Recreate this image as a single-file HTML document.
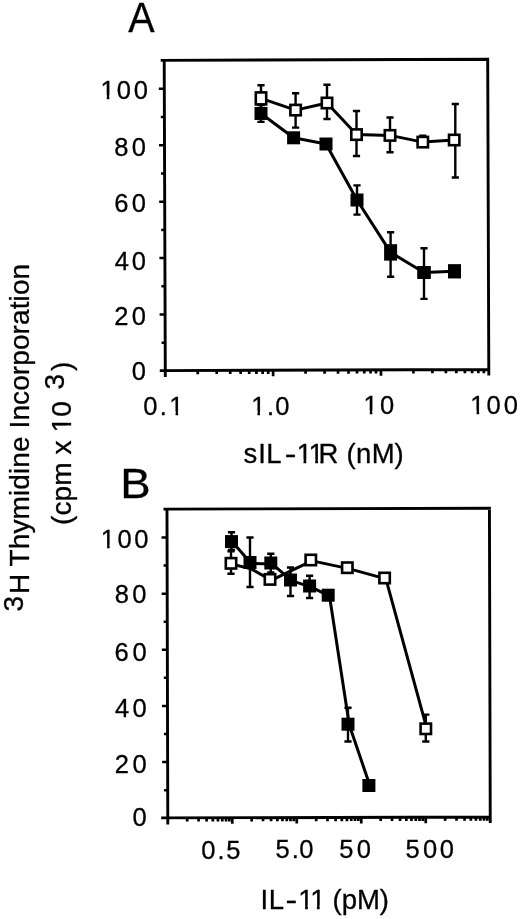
<!DOCTYPE html>
<html><head><meta charset="utf-8"><title>Figure</title>
<style>html,body{margin:0;padding:0;background:#fff}svg{display:block;will-change:transform}</style>
</head><body>
<svg width="520" height="919" viewBox="0 0 520 919">
<rect width="520" height="919" fill="#fff"/>
<g transform="rotate(-0.2 326.5 214.9)" stroke="#000" fill="none" stroke-linecap="butt">
<path d="M161.25 59.78 H489.70 M488.25 59.78 V376.02 M488.25 370.02 H159.25 M164.75 376.52 V59.78" stroke-width="2.9"/>
<path d="M164.75 342.12 h-3.6 M164.75 313.92 h-5.5 M164.75 285.71 h-3.6 M164.75 257.51 h-5.5 M164.75 229.30 h-3.6 M164.75 201.10 h-5.5 M164.75 172.89 h-3.6 M164.75 144.69 h-5.5 M164.75 116.48 h-3.6 M164.75 88.28 h-5.5" stroke-width="2.5"/>
<path d="M197.21 370.02 v3.7 M216.20 370.02 v3.7 M229.67 370.02 v3.7 M240.12 370.02 v3.7 M248.66 370.02 v3.7 M255.88 370.02 v3.7 M262.13 370.02 v3.7 M267.65 370.02 v3.7 M272.58 370.02 v6 M305.04 370.02 v3.7 M324.03 370.02 v3.7 M337.51 370.02 v3.7 M347.96 370.02 v3.7 M356.49 370.02 v3.7 M363.71 370.02 v3.7 M369.97 370.02 v3.7 M375.48 370.02 v3.7 M380.42 370.02 v6 M412.88 370.02 v3.7 M431.87 370.02 v3.7 M445.34 370.02 v3.7 M455.79 370.02 v3.7 M464.33 370.02 v3.7 M471.55 370.02 v3.7 M477.80 370.02 v3.7 M483.32 370.02 v3.7" stroke-width="2.7"/>
</g>
<path d="M261.00 98.40 L295.60 110.10 L327.00 103.00 L356.50 134.60 L390.00 135.40 L422.80 142.10 L454.20 140.00" stroke="#000" stroke-width="3.0" fill="none" stroke-linejoin="round"/>
<path d="M261.00 98.40 V85.30 M257.40 85.30 h7.2 M295.60 110.10 V93.20 M292.00 93.20 h7.2 M295.60 110.10 V127.60 M292.00 127.60 h7.2 M327.00 103.00 V84.80 M323.40 84.80 h7.2 M327.00 103.00 V119.00 M323.40 119.00 h7.2 M356.50 134.60 V111.00 M352.90 111.00 h7.2 M356.50 134.60 V156.00 M352.90 156.00 h7.2 M390.00 135.40 V117.50 M386.40 117.50 h7.2 M390.00 135.40 V152.30 M386.40 152.30 h7.2 M422.80 142.10 V135.70 M419.20 135.70 h7.2 M455.30 140.00 V104.00 M451.70 104.00 h7.2 M455.30 140.00 V177.50 M451.70 177.50 h7.2" stroke="#000" stroke-width="2.4" fill="none"/>
<rect x="255.80" y="92.40" width="10.40" height="12.00" fill="#fff" stroke="#000" stroke-width="2.6"/>
<rect x="290.40" y="104.90" width="10.40" height="10.40" fill="#fff" stroke="#000" stroke-width="2.6"/>
<rect x="321.80" y="97.80" width="10.40" height="10.40" fill="#fff" stroke="#000" stroke-width="2.6"/>
<rect x="351.30" y="129.40" width="10.40" height="10.40" fill="#fff" stroke="#000" stroke-width="2.6"/>
<rect x="384.80" y="130.20" width="10.40" height="10.40" fill="#fff" stroke="#000" stroke-width="2.6"/>
<rect x="417.60" y="136.90" width="10.40" height="10.40" fill="#fff" stroke="#000" stroke-width="2.6"/>
<rect x="449.00" y="134.80" width="10.40" height="10.40" fill="#fff" stroke="#000" stroke-width="2.6"/>
<path d="M261.00 113.45 L293.60 137.80 L326.00 144.00 L357.00 200.00 L390.60 252.40 L424.00 272.50 L454.50 271.30" stroke="#000" stroke-width="3.0" fill="none" stroke-linejoin="round"/>
<path d="M261.00 113.45 V105.00 M257.40 105.00 h7.2 M261.00 113.45 V121.90 M257.40 121.90 h7.2 M357.00 200.00 V185.40 M353.40 185.40 h7.2 M357.00 200.00 V214.60 M353.40 214.60 h7.2 M390.60 252.40 V232.30 M387.00 232.30 h7.2 M390.60 252.40 V276.80 M387.00 276.80 h7.2 M424.00 272.50 V248.30 M420.40 248.30 h7.2 M424.00 272.50 V298.90 M420.40 298.90 h7.2" stroke="#000" stroke-width="2.4" fill="none"/>
<rect x="254.50" y="106.95" width="13.00" height="13.00" fill="#000"/>
<rect x="287.10" y="131.30" width="13.00" height="13.00" fill="#000"/>
<rect x="319.50" y="137.50" width="13.00" height="13.00" fill="#000"/>
<rect x="350.50" y="193.50" width="13.00" height="13.00" fill="#000"/>
<rect x="384.10" y="244.20" width="13.00" height="16.40" fill="#000"/>
<rect x="417.20" y="266.00" width="13.60" height="13.00" fill="#000"/>
<rect x="448.00" y="264.15" width="13.00" height="14.30" fill="#000"/>
<g transform="rotate(-0.15 328.6 663.1)" stroke="#000" fill="none" stroke-linecap="butt">
<path d="M163.88 508.73 H491.28 M489.83 508.73 V823.48 M489.83 817.48 H160.78 M167.38 823.98 V508.73" stroke-width="2.9"/>
<path d="M167.38 789.71 h-3.6 M167.38 761.64 h-5.5 M167.38 733.57 h-3.6 M167.38 705.50 h-5.5 M167.38 677.43 h-3.6 M167.38 649.37 h-5.5 M167.38 621.30 h-3.6 M167.38 593.23 h-5.5 M167.38 565.16 h-3.6 M167.38 537.09 h-5.5" stroke-width="2.5"/>
<path d="M186.79 817.48 v3.7 M198.14 817.48 v3.7 M206.20 817.48 v3.7 M212.45 817.48 v3.7 M217.56 817.48 v3.7 M221.88 817.48 v3.7 M225.62 817.48 v3.7 M228.91 817.48 v3.7 M231.87 817.48 v6 M251.28 817.48 v3.7 M262.63 817.48 v3.7 M270.69 817.48 v3.7 M276.94 817.48 v3.7 M282.05 817.48 v3.7 M286.37 817.48 v3.7 M290.11 817.48 v3.7 M293.40 817.48 v3.7 M296.36 817.48 v6 M315.77 817.48 v3.7 M327.12 817.48 v3.7 M335.18 817.48 v3.7 M341.43 817.48 v3.7 M346.54 817.48 v3.7 M350.86 817.48 v3.7 M354.60 817.48 v3.7 M357.89 817.48 v3.7 M360.85 817.48 v6 M380.26 817.48 v3.7 M391.61 817.48 v3.7 M399.67 817.48 v3.7 M405.92 817.48 v3.7 M411.03 817.48 v3.7 M415.35 817.48 v3.7 M419.09 817.48 v3.7 M422.38 817.48 v3.7 M425.34 817.48 v6 M444.75 817.48 v3.7 M456.10 817.48 v3.7 M464.16 817.48 v3.7 M470.41 817.48 v3.7 M475.52 817.48 v3.7 M479.84 817.48 v3.7 M483.58 817.48 v3.7 M486.87 817.48 v3.7" stroke-width="2.7"/>
</g>
<path d="M232.30 564.20 L251.30 568.90 L271.30 580.30 L291.80 570.40 L312.10 560.90 L348.60 568.60 L385.90 578.90 L427.10 729.70" stroke="#000" stroke-width="3.0" fill="none" stroke-linejoin="round"/>
<path d="M231.00 563.30 V551.20 M227.40 551.20 h7.2 M231.00 563.30 V573.80 M227.40 573.80 h7.2 M425.80 728.80 V714.60 M422.20 714.60 h7.2 M425.80 728.80 V741.50 M422.20 741.50 h7.2" stroke="#000" stroke-width="2.4" fill="none"/>
<rect x="225.80" y="558.10" width="10.40" height="10.40" fill="#fff" stroke="#000" stroke-width="2.6"/>
<rect x="264.80" y="574.20" width="10.40" height="10.40" fill="#fff" stroke="#000" stroke-width="2.6"/>
<rect x="305.60" y="554.80" width="10.40" height="10.40" fill="#fff" stroke="#000" stroke-width="2.6"/>
<rect x="342.10" y="562.50" width="10.40" height="10.40" fill="#fff" stroke="#000" stroke-width="2.6"/>
<rect x="379.40" y="572.80" width="10.40" height="10.40" fill="#fff" stroke="#000" stroke-width="2.6"/>
<rect x="420.60" y="723.60" width="10.40" height="10.40" fill="#fff" stroke="#000" stroke-width="2.6"/>
<path d="M232.80 542.50 L251.30 563.40 L272.10 563.90 L291.80 580.90 L310.90 586.90 L329.50 596.10 L349.30 725.10 L370.20 786.40" stroke="#000" stroke-width="3.0" fill="none" stroke-linejoin="round"/>
<path d="M231.50 541.60 V532.20 M227.90 532.20 h7.2 M231.50 541.60 V550.00 M227.90 550.00 h7.2 M250.00 562.50 V537.50 M246.40 537.50 h7.2 M250.00 562.50 V587.00 M246.40 587.00 h7.2 M270.80 563.00 V553.80 M267.20 553.80 h7.2 M270.80 563.00 V572.50 M267.20 572.50 h7.2 M290.50 580.00 V567.50 M286.90 567.50 h7.2 M290.50 580.00 V596.00 M286.90 596.00 h7.2 M309.60 586.00 V575.80 M306.00 575.80 h7.2 M309.60 586.00 V598.00 M306.00 598.00 h7.2 M348.00 724.20 V707.70 M344.40 707.70 h7.2 M348.00 724.20 V741.50 M344.40 741.50 h7.2" stroke="#000" stroke-width="2.4" fill="none"/>
<rect x="225.00" y="535.10" width="13.00" height="13.00" fill="#000"/>
<rect x="243.50" y="556.00" width="13.00" height="13.00" fill="#000"/>
<rect x="264.30" y="556.50" width="13.00" height="13.00" fill="#000"/>
<rect x="284.00" y="573.50" width="13.00" height="13.00" fill="#000"/>
<rect x="303.10" y="579.50" width="13.00" height="13.00" fill="#000"/>
<rect x="321.70" y="588.70" width="13.00" height="13.00" fill="#000"/>
<rect x="341.50" y="717.70" width="13.00" height="13.00" fill="#000"/>
<rect x="362.40" y="779.00" width="13.00" height="13.00" fill="#000"/>
<text x="100.53 116.86 133.76" y="98.70" font-family="Liberation Sans, sans-serif" stroke="#000" stroke-width="0.3" font-size="25.5" fill="#000">100</text><rect x="101.17" y="95.19" width="5.62" height="5.51" fill="#fff"/><rect x="109.35" y="95.19" width="5.42" height="5.51" fill="#fff"/>
<text x="114.16 131.86" y="156.20" font-family="Liberation Sans, sans-serif" stroke="#000" stroke-width="0.3" font-size="25.5" fill="#000">80</text>
<text x="114.17 131.86" y="212.30" font-family="Liberation Sans, sans-serif" stroke="#000" stroke-width="0.3" font-size="25.5" fill="#000">60</text>
<text x="114.64 131.86" y="269.80" font-family="Liberation Sans, sans-serif" stroke="#000" stroke-width="0.3" font-size="25.5" fill="#000">40</text>
<text x="114.31 131.86" y="324.60" font-family="Liberation Sans, sans-serif" stroke="#000" stroke-width="0.3" font-size="25.5" fill="#000">20</text>
<text x="131.86" y="379.70" font-family="Liberation Sans, sans-serif" stroke="#000" stroke-width="0.3" font-size="25.5" fill="#000">0</text>
<text x="100.83 117.61 134.16" y="548.30" font-family="Liberation Sans, sans-serif" stroke="#000" stroke-width="0.3" font-size="25.5" fill="#000">100</text><rect x="101.47" y="544.79" width="5.62" height="5.51" fill="#fff"/><rect x="109.65" y="544.79" width="5.42" height="5.51" fill="#fff"/>
<text x="114.66 132.26" y="603.10" font-family="Liberation Sans, sans-serif" stroke="#000" stroke-width="0.3" font-size="25.5" fill="#000">80</text>
<text x="114.57 132.51" y="660.50" font-family="Liberation Sans, sans-serif" stroke="#000" stroke-width="0.3" font-size="25.5" fill="#000">60</text>
<text x="114.99 132.51" y="716.50" font-family="Liberation Sans, sans-serif" stroke="#000" stroke-width="0.3" font-size="25.5" fill="#000">40</text>
<text x="114.71 132.51" y="772.50" font-family="Liberation Sans, sans-serif" stroke="#000" stroke-width="0.3" font-size="25.5" fill="#000">20</text>
<text x="132.41" y="826.20" font-family="Liberation Sans, sans-serif" stroke="#000" stroke-width="0.3" font-size="25.5" fill="#000">0</text>
<text x="143.26 159.86 169.33" y="415.00" font-family="Liberation Sans, sans-serif" stroke="#000" stroke-width="0.3" font-size="25.5" fill="#000">0.1</text><rect x="169.97" y="411.49" width="5.62" height="5.51" fill="#fff"/><rect x="178.15" y="411.49" width="5.42" height="5.51" fill="#fff"/>
<text x="251.13 266.91 275.36" y="414.60" font-family="Liberation Sans, sans-serif" stroke="#000" stroke-width="0.3" font-size="25.5" fill="#000">1.0</text><rect x="251.77" y="411.09" width="5.62" height="5.51" fill="#fff"/><rect x="259.95" y="411.09" width="5.42" height="5.51" fill="#fff"/>
<text x="363.53 379.91" y="414.20" font-family="Liberation Sans, sans-serif" stroke="#000" stroke-width="0.3" font-size="25.5" fill="#000">10</text><rect x="364.17" y="410.69" width="5.62" height="5.51" fill="#fff"/><rect x="372.35" y="410.69" width="5.42" height="5.51" fill="#fff"/>
<text x="470.33 486.61 503.66" y="413.90" font-family="Liberation Sans, sans-serif" stroke="#000" stroke-width="0.3" font-size="25.5" fill="#000">100</text><rect x="470.97" y="410.39" width="5.62" height="5.51" fill="#fff"/><rect x="479.15" y="410.39" width="5.42" height="5.51" fill="#fff"/>
<text x="201.16 217.46 226.18" y="858.50" font-family="Liberation Sans, sans-serif" stroke="#000" stroke-width="0.3" font-size="25.5" fill="#000">0.5</text>
<text x="275.43 291.71 299.16" y="858.40" font-family="Liberation Sans, sans-serif" stroke="#000" stroke-width="0.3" font-size="25.5" fill="#000">5.0</text>
<text x="339.18 356.66" y="857.90" font-family="Liberation Sans, sans-serif" stroke="#000" stroke-width="0.3" font-size="25.5" fill="#000">50</text>
<text x="405.43 422.91 439.66" y="857.70" font-family="Liberation Sans, sans-serif" stroke="#000" stroke-width="0.3" font-size="25.5" fill="#000">500</text>
<text transform="translate(128.2 32.2) scale(0.92 1)" font-family="Liberation Sans, sans-serif" stroke="#000" stroke-width="0.3" font-size="43" fill="#000">A</text>
<text transform="translate(120.3 497.7) scale(1.06 1)" font-family="Liberation Sans, sans-serif" stroke="#000" stroke-width="0.3" font-size="43" fill="#000">B</text>
<text x="243.60" y="463.30" font-family="Liberation Sans, sans-serif" stroke="#000" stroke-width="0.3" font-size="27.5" letter-spacing="0" fill="#000" >s<tspan dx="1">I</tspan><tspan dx="0.2">L</tspan><tspan dx="3.3" textLength="11.7" lengthAdjust="spacingAndGlyphs">-</tspan><tspan dx="0.3">1</tspan><tspan dx="-1.6">1</tspan><tspan dx="-5.3">R</tspan><tspan dx="0.5"> (</tspan><tspan dx="0.4">n</tspan><tspan dx="0.5">M</tspan><tspan dx="-0.3">)</tspan></text><rect x="297.58" y="459.65" width="5.97" height="5.65" fill="#fff"/><rect x="306.28" y="459.65" width="5.76" height="5.65" fill="#fff"/><rect x="309.25" y="459.65" width="5.97" height="5.65" fill="#fff"/><rect x="317.95" y="459.65" width="2.46" height="5.65" fill="#fff"/>
<text x="260.50" y="908.80" font-family="Liberation Sans, sans-serif" stroke="#000" stroke-width="0.3" font-size="27.5" letter-spacing="0" fill="#000" >I<tspan dx="0.6">L</tspan><tspan dx="1.6" textLength="11.7" lengthAdjust="spacingAndGlyphs">-</tspan><tspan dx="1.0">1</tspan><tspan dx="-1.45">1</tspan><tspan dx="-0.6"> (</tspan>pM)</text><rect x="299.13" y="905.15" width="5.97" height="5.65" fill="#fff"/><rect x="307.83" y="905.15" width="5.76" height="5.65" fill="#fff"/><rect x="310.95" y="905.15" width="5.97" height="5.65" fill="#fff"/><rect x="319.65" y="905.15" width="5.76" height="5.65" fill="#fff"/>
<g transform="translate(29.2 611.4) rotate(-90)"><text x="0" y="0" font-family="Liberation Sans, sans-serif" stroke="#000" stroke-width="0.3" font-size="28" letter-spacing="0.1" fill="#000"><tspan dy="-6.6">3</tspan><tspan dx="1.6" dy="6.6">H Thymidine Incorporation</tspan></text></g>
<g transform="translate(71 524.9) rotate(-90)"><text x="0" y="0" font-family="Liberation Sans, sans-serif" stroke="#000" stroke-width="0.3" font-size="28" letter-spacing="0.1" fill="#000">(cpm x 10<tspan dx="11.7" dy="-6.9">3</tspan><tspan dx="2.7" dy="6.9">)</tspan></text><rect x="93.30" y="-3.69" width="6.06" height="5.69" fill="#fff"/><rect x="102.13" y="-3.69" width="5.84" height="5.69" fill="#fff"/></g>
</svg>
</body></html>
